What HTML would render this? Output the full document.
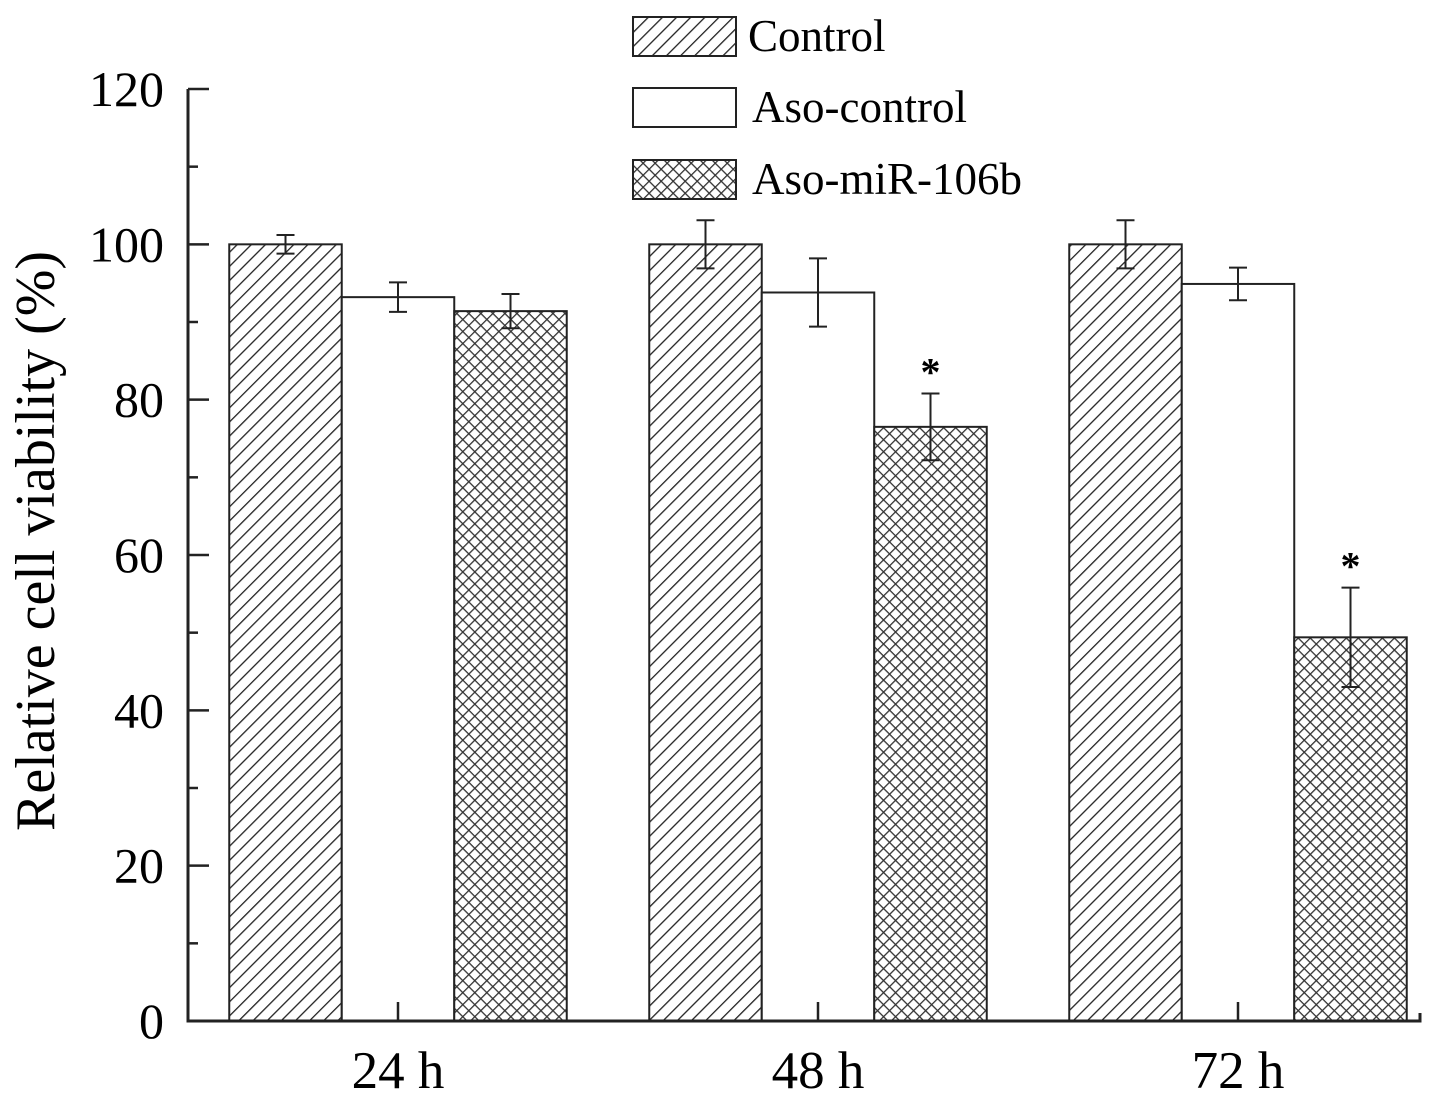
<!DOCTYPE html>
<html><head><meta charset="utf-8"><style>
html,body{margin:0;padding:0;background:#fff;}
svg{display:block;font-family:"Liberation Serif",serif;}
</style></head><body>
<svg id="chart" width="1441" height="1103" viewBox="0 0 1441 1103">
<defs>
<pattern id="diag" width="10" height="10" patternUnits="userSpaceOnUse" patternTransform="rotate(45)">
<rect width="10" height="10" fill="#fff"/><line x1="0" y1="0" x2="0" y2="10" stroke="#222" stroke-width="2.6"/>
</pattern>
<pattern id="cross" width="8.5" height="8.5" patternUnits="userSpaceOnUse" patternTransform="rotate(45)">
<rect width="8.5" height="8.5" fill="#fff"/><line x1="0" y1="0" x2="0" y2="8.5" stroke="#333" stroke-width="2.6"/><line x1="0" y1="0" x2="8.5" y2="0" stroke="#333" stroke-width="2.6"/>
</pattern>
</defs>
<g id="plot"></g>
</svg>
<script>
const categories = ["24 h","48 h","72 h"];
const seriesNames = ["Control","Aso-control","Aso-miR-106b"];
const controlValues = [100, 100, 100];
const asoControlValues = [93.2, 93.8, 94.9];
const asoMirValues = [91.4, 76.5, 49.4];
const controlErr = [1.2, 3.1, 3.1];
const asoControlErr = [1.9, 4.4, 2.1];
const asoMirErr = [2.2, 4.3, 6.4];
const significant = [[false,false,false],[false,false,true],[false,false,true]];
const yTicks = [0,20,40,60,80,100,120];

const NS="http://www.w3.org/2000/svg";
const g=document.getElementById('plot');
function el(t,a,p){const e=document.createElementNS(NS,t);for(const k in a)e.setAttribute(k,a[k]);(p||g).appendChild(e);return e;}
const y0=1021, y1=89, yMax=120;
function y(v){return y0-(v/yMax)*(y0-y1);}
const xL=188, xR=1420;
const groupCenters=[398,818,1238];
function xc(i){return groupCenters[i];}
const bw=112.5;
const fills=["url(#diag)","#fff","url(#cross)"];
const vals=[controlValues,asoControlValues,asoMirValues];
const errs=[controlErr,asoControlErr,asoMirErr];

categories.forEach((c,i)=>{
  for(let s=0;s<3;s++){
    const v=vals[s][i], x=xc(i)+(s-1.5)*bw;
    const r=el('rect',{x:x,y:y(v),width:bw,height:y0-y(v),fill:fills[s],stroke:'#222','stroke-width':2});
    
    
    const cx=x+bw/2, e=errs[s][i];
    const eb=el('path',{d:`M${cx},${y(v+e)}V${y(v-e)}M${cx-9},${y(v+e)}H${cx+9}M${cx-9},${y(v-e)}H${cx+9}`,stroke:'#222','stroke-width':2,fill:'none'});
    
    
    if(significant[i][s]){
      const t=el('text',{x:cx,y:y(v+e)-8,'font-size':40,'font-weight':'bold','text-anchor':'middle'});
      t.textContent='*';
      
      
    }
  }
  const tk=el('line',{x1:xc(i),x2:xc(i),y1:y0,y2:y0-19,stroke:'#222','stroke-width':2.5});
  
  
  const lb=el('text',{x:xc(i),y:1088,'font-size':53,'text-anchor':'middle'});
  lb.textContent=c;
  
  
});
const ax=el('path',{d:`M${xL},${y1}V${y0}H${xR}V${y0-8}`,stroke:'#222','stroke-width':3,fill:'none'});


yTicks.forEach((t,i)=>{
  const l=el('line',{x1:xL,x2:xL+21,y1:y(t),y2:y(t),stroke:'#222','stroke-width':2.5});
  
  
  if(i<yTicks.length-1){
    const m=el('line',{x1:xL,x2:xL+10,y1:y(t+10),y2:y(t+10),stroke:'#222','stroke-width':2.5});
    
    
  }
  const tx=el('text',{x:164,y:y(t)+17,'font-size':50,'text-anchor':'end'});
  tx.textContent=t;
  
  
});
const yt=el('text',{x:0,y:0,'font-size':56,'text-anchor':'middle',transform:`translate(54,${(y0+y1)/2-14}) rotate(-90)`});
yt.textContent='Relative cell viability (%)';


const legY=[17,88,160];
seriesNames.forEach((n,s)=>{
  const r=el('rect',{x:633,y:legY[s],width:103,height:39,fill:fills[s],stroke:'#222','stroke-width':2});
  
  
  const t=el('text',{x:s==0?748:752,y:legY[s]+34,'font-size':45});
  t.textContent=n;
  
  
});
</script>
</body></html>
